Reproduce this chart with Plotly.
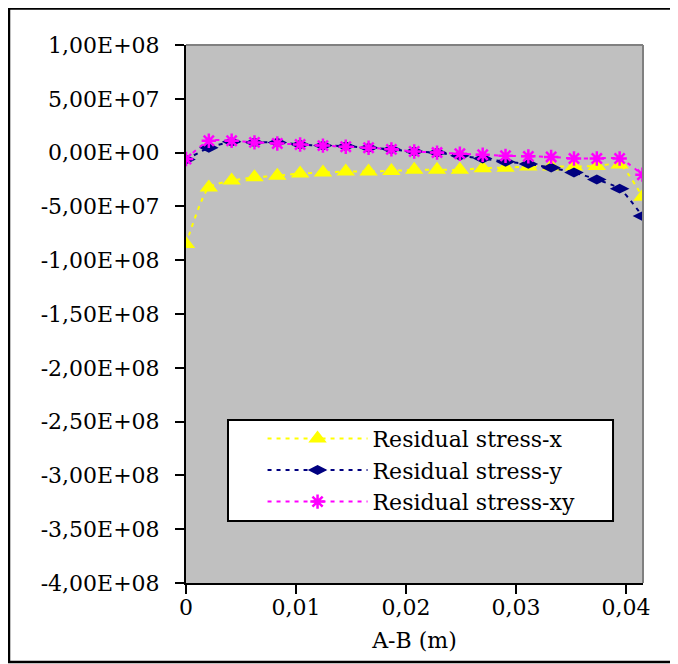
import plotly.graph_objects as go

# distance along A-B (m)
x_pos = [0.0, 0.002075, 0.00415, 0.006225, 0.0083, 0.010375, 0.01245, 0.014525, 0.0166, 0.018675,
         0.02075, 0.022825, 0.0249, 0.026975, 0.02905, 0.031125, 0.0332, 0.035275, 0.03735, 0.039425, 0.0415]

stress_x = [-8.5e7, -3.25e7, -2.6e7, -2.3e7, -2.15e7, -1.95e7, -1.85e7, -1.75e7, -1.75e7, -1.7e7,
            -1.6e7, -1.6e7, -1.6e7, -1.45e7, -1.4e7, -1.3e7, -1.3e7, -1.3e7, -1.25e7, -1.1e7, -4.1e7]
stress_y = [-0.65e7, 0.45e7, 1.0e7, 0.95e7, 0.95e7, 0.75e7, 0.65e7, 0.6e7, 0.45e7, 0.3e7,
            0.1e7, 0.0, -0.3e7, -0.55e7, -0.85e7, -1.05e7, -1.4e7, -1.85e7, -2.5e7, -3.35e7, -5.9e7]
stress_xy = [-0.6e7, 1.1e7, 1.1e7, 0.95e7, 0.85e7, 0.75e7, 0.65e7, 0.55e7, 0.45e7, 0.3e7,
             0.1e7, 0.0, -0.1e7, -0.2e7, -0.3e7, -0.35e7, -0.4e7, -0.55e7, -0.55e7, -0.55e7, -2.05e7]

y_tickvals = [1e8, 5e7, 0, -5e7, -1e8, -1.5e8, -2e8, -2.5e8, -3e8, -3.5e8, -4e8]
y_ticktext = ["1,00E+08", "5,00E+07", "0,00E+00", "-5,00E+07", "-1,00E+08", "-1,50E+08",
              "-2,00E+08", "-2,50E+08", "-3,00E+08", "-3,50E+08", "-4,00E+08"]
x_tickvals = [0, 0.01, 0.02, 0.03, 0.04]
x_ticktext = ["0", "0,01", "0,02", "0,03", "0,04"]

FONT = "DejaVu Serif"

fig = go.Figure()
fig.add_trace(go.Scatter(
    x=x_pos, y=stress_x, name="Residual stress-x", mode="lines+markers",
    line=dict(color="#FFFF00", width=2, dash="4px,5px", shape="spline", smoothing=0.6),
    marker=dict(symbol="triangle-up", size=16, color="#FFFF00"),
    legendgroup="a"))
fig.add_trace(go.Scatter(
    x=x_pos, y=stress_y, name="Residual stress-y", mode="lines+markers",
    line=dict(color="#000080", width=2, dash="4px,5px", shape="spline", smoothing=0.6),
    marker=dict(symbol="diamond-wide", size=14, color="#000080"),
    legendgroup="b"))
fig.add_trace(go.Scatter(
    x=x_pos, y=stress_xy, name="Residual stress-xy", mode="lines+markers",
    line=dict(color="#FF00FF", width=2, dash="4px,5px", shape="spline", smoothing=0.6),
    marker=dict(symbol="asterisk-open", size=12, color="#FF00FF",
                line=dict(color="#FF00FF", width=2.5)),
    legendgroup="c"))

shapes = [
    # outer chart border
    dict(type="rect", xref="paper", yref="paper", x0=-0.3873, x1=1.1, y0=-0.1468, y1=1.0678,
         line=dict(color="black", width=2.5), fillcolor="rgba(0,0,0,0)", layer="below"),
    # plot-area top/right border
    dict(type="line", xref="paper", yref="paper", x0=0, x1=1, y0=1, y1=1,
         line=dict(color="#808080", width=2)),
    dict(type="line", xref="paper", yref="paper", x0=1, x1=1, y0=0, y1=1,
         line=dict(color="#808080", width=2)),
    # legend box
    dict(type="rect", xref="paper", yref="paper", x0=0.0919, x1=0.9344, y0=0.1152, y1=0.303,
         line=dict(color="black", width=2), fillcolor="white", layer="below"),
]

fig.update_layout(
    width=678, height=664,
    margin=dict(l=178, r=43, t=37, b=89),
    paper_bgcolor="white", plot_bgcolor="#C0C0C0",
    font=dict(family=FONT, size=22, color="black"),
    showlegend=True,
    legend=dict(x=0.1675, y=0.3074, xanchor="left", yanchor="top", bgcolor="rgba(0,0,0,0)",
                borderwidth=0, itemwidth=100, tracegroupgap=0,
                font=dict(family=FONT, size=22, color="black")),
    shapes=shapes,
    xaxis=dict(range=[0, 0.04155], tickvals=x_tickvals, ticktext=x_ticktext,
               showgrid=False, zeroline=False, showline=True, linecolor="black", linewidth=2,
               ticks="outside", ticklen=9, tickwidth=2, tickcolor="black",
               ticklabelstandoff=-5,
               title=dict(text="A-B (m)", font=dict(family=FONT, size=22), standoff=13)),
    yaxis=dict(range=[-4e8, 1e8], tickvals=y_tickvals, ticktext=y_ticktext,
               showgrid=False, zeroline=False, showline=True, linecolor="black", linewidth=2,
               ticks="outside", ticklen=9, tickwidth=2, tickcolor="black",
               ticklabelstandoff=11),
)

fig.write_html("out.html")
